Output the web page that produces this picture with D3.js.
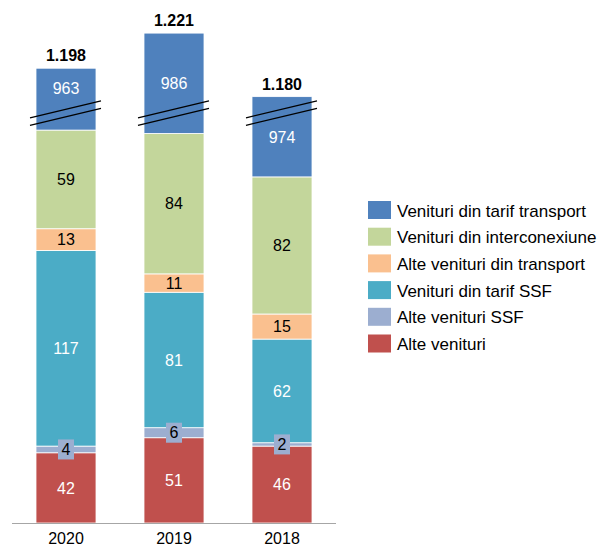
<!DOCTYPE html>
<html>
<head>
<meta charset="utf-8">
<script src="https://cdn.jsdelivr.net/npm/d3@7"></script>
<style>
  html, body { margin: 0; padding: 0; background: #fff; }
  svg { display: block; font-family: "Liberation Sans", Arial, sans-serif; }
</style>
</head>
<body>
<svg id="chart" width="601" height="546"></svg>
<script>
// ---- data ----
const years = ["2020", "2019", "2018"];
const seriesNames = [
  "Alte venituri",
  "Alte venituri SSF",
  "Venituri din tarif SSF",
  "Alte venituri din transport",
  "Venituri din interconexiune",
  "Venituri din tarif transport"
];
const alteVenituri = [42, 51, 46];
const alteVenituriSSF = [4, 6, 2];
const tarifSSF = [117, 81, 62];
const alteTransport = [13, 11, 15];
const interconexiune = [59, 84, 82];
const tarifTransport = [963, 986, 974];
const totalLabels = ["1.198", "1.221", "1.180"];
const legendOrder = [
  "Venituri din tarif transport",
  "Venituri din interconexiune",
  "Alte venituri din transport",
  "Venituri din tarif SSF",
  "Alte venituri SSF",
  "Alte venituri"
];
// axis break: the top series is drawn minus this amount
const breakOffset = 926;
const breakAt = 247.5; // axis value where break marks are drawn

// ---- styles ----
const colors = {
  "Alte venituri": "#C0504D",
  "Alte venituri SSF": "#9CAED0",
  "Venituri din tarif SSF": "#4BACC6",
  "Alte venituri din transport": "#FAC08F",
  "Venituri din interconexiune": "#C3D69B",
  "Venituri din tarif transport": "#4F81BD"
};
const labelColors = {
  "Alte venituri": "#fff",
  "Alte venituri SSF": "#000",
  "Venituri din tarif SSF": "#fff",
  "Alte venituri din transport": "#000",
  "Venituri din interconexiune": "#000",
  "Venituri din tarif transport": "#fff"
};
const boxedLabels = new Set(["Alte venituri SSF"]);

const seriesValues = [alteVenituri, alteVenituriSSF, tarifSSF, alteTransport, interconexiune, tarifTransport];

const rows = years.map((yr, i) => {
  const r = { year: yr };
  seriesNames.forEach((s, k) => {
    r[s] = (k === seriesNames.length - 1) ? seriesValues[k][i] - breakOffset : seriesValues[k][i];
  });
  return r;
});
const rawRows = years.map((yr, i) => {
  const r = {};
  seriesNames.forEach((s, k) => { r[s] = seriesValues[k][i]; });
  return r;
});

const stacked = d3.stack().keys(seriesNames)(rows);

const svg = d3.select("#chart");
const x = d3.scaleBand().domain(years).range([12, 336]).paddingInner(0.4444).paddingOuter(0.2222);
const y = d3.scaleLinear().domain([0, 300]).range([523, 523 - 300 * 1.672]);

// bars
const g = svg.append("g");
stacked.forEach(layer => {
  const key = layer.key;
  g.selectAll(null).data(layer).enter().append("rect")
    .attr("x", d => x(d.data.year))
    .attr("width", x.bandwidth())
    .attr("y", d => y(d[1]))
    .attr("height", d => y(d[0]) - y(d[1]))
    .attr("fill", colors[key])
    .attr("stroke", "#fff")
    .attr("stroke-width", 0.8);
});

// axis line
svg.append("line")
  .attr("x1", x.range()[0]).attr("x2", x.range()[1])
  .attr("y1", y(0) + 0.5).attr("y2", y(0) + 0.5)
  .attr("stroke", "#A6A6A6").attr("stroke-width", 1.2);

// year labels
svg.selectAll(null).data(years).enter().append("text")
  .attr("x", d => x(d) + x.bandwidth() / 2)
  .attr("y", 544)
  .attr("text-anchor", "middle")
  .attr("font-size", 16)
  .attr("fill", "#000")
  .text(d => d);

// break marks
const slope = -0.24;
const breakY = y(breakAt);
years.forEach(yr => {
  const cx = x(yr) + x.bandwidth() / 2;
  const x1 = x(yr) - 6, x2 = x(yr) + x.bandwidth() + 5;
  [0, 7.5].forEach(off => {
    svg.append("line")
      .attr("x1", x1).attr("x2", x2)
      .attr("y1", breakY + off + (x1 - cx) * slope)
      .attr("y2", breakY + off + (x2 - cx) * slope)
      .attr("stroke", "#000").attr("stroke-width", 1.3);
  });
});

// segment labels
const lg = svg.append("g");
stacked.forEach(layer => {
  const key = layer.key;
  layer.forEach((d, i) => {
    const cx = x(d.data.year) + x.bandwidth() / 2;
    let cy = (y(d[0]) + y(d[1])) / 2;
    if (key === seriesNames[seriesNames.length - 1]) {
      if (Math.abs(cy - breakY) < 14) cy = (y(d[1]) + breakY) / 2;
    }
    const val = rawRows[i][key];
    if (boxedLabels.has(key)) {
      const w = String(val).length * 9 + 7;
      lg.append("rect")
        .attr("x", cx - w / 2).attr("y", cy - 10)
        .attr("width", w).attr("height", 20)
        .attr("fill", colors[key]);
    }
    lg.append("text")
      .attr("x", cx).attr("y", cy).attr("dy", "0.36em")
      .attr("text-anchor", "middle")
      .attr("font-size", 16)
      .attr("fill", labelColors[key])
      .text(val);
  });
});

// totals
const topLayer = stacked[stacked.length - 1];
svg.selectAll(null).data(topLayer).enter().append("text")
  .attr("x", d => x(d.data.year) + x.bandwidth() / 2)
  .attr("y", d => y(d[1]) - 7)
  .attr("text-anchor", "middle")
  .attr("font-size", 16)
  .attr("font-weight", "bold")
  .attr("fill", "#000")
  .text((d, i) => totalLabels[i]);

// legend
const leg = svg.append("g");
legendOrder.forEach((name, i) => {
  const ly = 201 + i * 26.7;
  leg.append("rect")
    .attr("x", 368).attr("y", ly)
    .attr("width", 23).attr("height", 18)
    .attr("fill", colors[name]);
  leg.append("text")
    .attr("x", 397).attr("y", ly + 15.5)
    .attr("font-size", 17)
    .attr("fill", "#000")
    .text(name);
});
</script>
</body>
</html>
